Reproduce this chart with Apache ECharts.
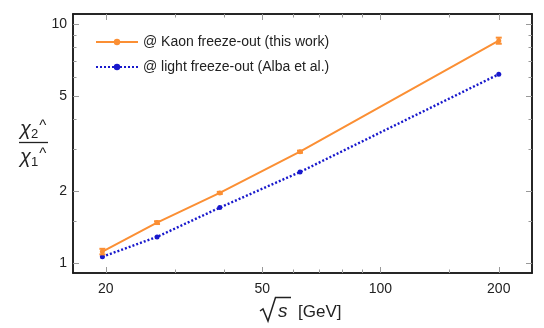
<!DOCTYPE html>
<html>
<head>
<meta charset="utf-8">
<script src="https://cdn.jsdelivr.net/npm/echarts@6/dist/echarts.min.js"></script>
<style>
  html, body { margin: 0; padding: 0; background: #fff; }
  #chart { width: 544px; height: 328px; }
</style>
</head>
<body>
<div id="chart"></div>
<script>
// data
const energies = [19.6, 27, 39, 62.4, 200];
const kaonRatio = [1.12, 1.48, 1.97, 2.93, 8.54];
const kaonErr = [0.03, 0.02, 0.02, 0.03, 0.25];
const lightRatio = [1.065, 1.29, 1.71, 2.41, 6.18];

const xMajor = [20, 50, 100, 200];
const xMinor = [30, 40, 60, 70, 80, 90, 150];
const yMajor = [1, 2, 5, 10];
const yMinor = [1.5, 3, 4, 6, 7, 8, 9];

const kaonName = '@ Kaon freeze-out (this work)';
const lightName = '@ light freeze-out (Alba et al.)';

const orange = '#fb8f34';
const blue = '#1818cc';
const font = 'Liberation Sans, Arial, sans-serif';

let chart = echarts.init(document.getElementById('chart'), null, { renderer: 'canvas' });

// one axis per tick set, so major and minor ticks can differ in length
function makeAxis(kind, pos, ticks, len, labels) {
    let ax = {
        type: 'log',
        position: pos,
        min: kind === 'x' ? 16.5 : 0.911,
        max: kind === 'x' ? 243 : 11.04,
        axisLine: { show: true, onZero: false, lineStyle: { color: '#1a1a1a', width: 1.5 } },
        axisTick: { show: true, inside: true, length: len, customValues: ticks, lineStyle: { color: '#999', width: 1 } },
        axisLabel: {
            show: labels,
            customValues: ticks,
            color: '#222',
            fontFamily: font,
            fontSize: 14,
            margin: kind === 'x' ? 9 : 6,
            formatter: v => String(Math.round(v))
        },
        splitLine: { show: false },
        minorTick: { show: false },
        minorSplitLine: { show: false }
    };
    return ax;
}

let xAxes = [
    makeAxis('x', 'bottom', xMajor, 6, true),
    makeAxis('x', 'bottom', xMinor, 3.5, false),
    makeAxis('x', 'top', xMajor, 6, false),
    makeAxis('x', 'top', xMinor, 3.5, false)
];
let yAxes = [
    makeAxis('y', 'left', yMajor, 6, true),
    makeAxis('y', 'left', yMinor, 3.5, false),
    makeAxis('y', 'right', yMajor, 6, false),
    makeAxis('y', 'right', yMinor, 3.5, false)
];

let errData = energies.map((e, i) => [e, kaonRatio[i] - kaonErr[i], kaonRatio[i] + kaonErr[i]]);

let option = {
    animation: false,
    grid: { left: 73, right: 12, top: 14, bottom: 55 },
    xAxis: xAxes,
    yAxis: yAxes,
    legend: {
        orient: 'vertical',
        left: 90,
        top: 30,
        itemWidth: 42,
        itemHeight: 8,
        itemGap: 11,
        textStyle: { fontFamily: font, fontSize: 14, color: '#222' },
        data: [kaonName, lightName]
    },
    series: [
        {
            name: kaonName,
            type: 'line',
            data: energies.map((e, i) => [e, kaonRatio[i]]),
            symbol: 'circle',
            symbolSize: 5,
            itemStyle: { color: orange },
            lineStyle: { color: orange, width: 2 },
            z: 3
        },
        {
            name: lightName,
            type: 'line',
            data: energies.map((e, i) => [e, lightRatio[i]]),
            symbol: 'circle',
            symbolSize: 5,
            itemStyle: { color: blue },
            lineStyle: { color: blue, width: 2.4, type: [2, 2] },
            z: 2
        },
        {
            name: 'err',
            type: 'custom',
            data: errData,
            renderItem: function (params, api) {
                let lo = api.coord([api.value(0), api.value(1)]);
                let hi = api.coord([api.value(0), api.value(2)]);
                let st = { stroke: orange, lineWidth: 2 };
                return {
                    type: 'group',
                    children: [
                        { type: 'line', shape: { x1: lo[0], y1: lo[1], x2: hi[0], y2: hi[1] }, style: st },
                        { type: 'line', shape: { x1: lo[0] - 3, y1: lo[1], x2: lo[0] + 3, y2: lo[1] }, style: st },
                        { type: 'line', shape: { x1: hi[0] - 3, y1: hi[1], x2: hi[0] + 3, y2: hi[1] }, style: st }
                    ]
                };
            },
            z: 4
        }
    ],
    graphic: [
        // y axis title: chi_2 / chi_1 fraction
        {
            type: 'text', left: 20, top: 118,
            style: {
                text: '{c|χ}{s|2}{p|^}',
                rich: {
                    c: { fontFamily: font, fontStyle: 'italic', fontSize: 20, fill: '#222' },
                    s: { fontFamily: font, fontSize: 13, fill: '#222', verticalAlign: 'bottom', padding: [8, 0, 0, 0] },
                    p: { fontFamily: font, fontSize: 15, fill: '#222', verticalAlign: 'top', padding: [0, 0, 8, 1] }
                }
            }
        },
        { type: 'line', shape: { x1: 19, y1: 142.5, x2: 48, y2: 142.5 }, style: { stroke: '#222', lineWidth: 1.3 } },
        {
            type: 'text', left: 20, top: 146,
            style: {
                text: '{c|χ}{s|1}{p|^}',
                rich: {
                    c: { fontFamily: font, fontStyle: 'italic', fontSize: 20, fill: '#222' },
                    s: { fontFamily: font, fontSize: 13, fill: '#222', verticalAlign: 'bottom', padding: [8, 0, 0, 0] },
                    p: { fontFamily: font, fontSize: 15, fill: '#222', verticalAlign: 'top', padding: [0, 0, 8, 1] }
                }
            }
        },
        // x axis title: sqrt(s) [GeV], radical sign drawn as a stroke
        {
            type: 'polyline',
            shape: { points: [[260, 311], [263, 309], [268, 321], [275.5, 297.5], [291, 297.5]] },
            style: { stroke: '#222', lineWidth: 1.5, fill: null }
        },
        { type: 'text', left: 278, top: 302, style: { text: 's', fontFamily: font, fontStyle: 'italic', fontSize: 19, fill: '#222' } },
        { type: 'text', left: 298, top: 304, style: { text: '[GeV]', fontFamily: font, fontSize: 17, fill: '#222' } }
    ]
};

chart.setOption(option);
window.addEventListener('resize', function () {
    chart.resize();
});
</script>
</body>
</html>
